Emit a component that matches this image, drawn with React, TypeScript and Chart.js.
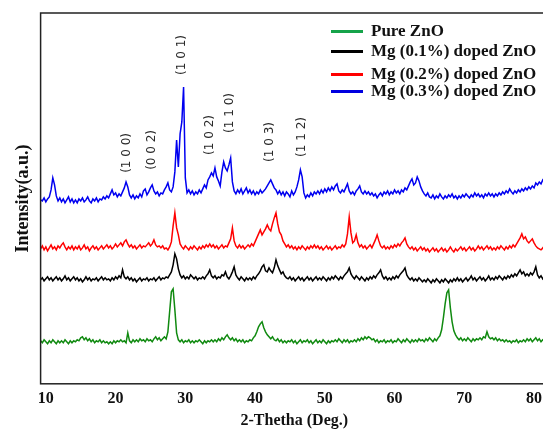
import React, { useEffect, useRef } from "react";
import { Chart, registerables } from "chart.js";

Chart.register(...registerables);

// 2-theta sampling (degrees)
const twoTheta = [
  9.25, 9.5, 9.75, 10, 10.25, 10.5, 10.75, 11, 11.25, 11.5, 11.75, 12, 12.25, 12.5, 12.75, 13, 13.25, 13.5, 13.75, 14,
  14.25, 14.5, 14.75, 15, 15.25, 15.5, 15.75, 16, 16.25, 16.5, 16.75, 17, 17.25, 17.5, 17.75, 18, 18.25, 18.5, 18.75, 19,
  19.25, 19.5, 19.75, 20, 20.25, 20.5, 20.75, 21, 21.25, 21.5, 21.75, 22, 22.25, 22.5, 22.75, 23, 23.25, 23.5, 23.75, 24,
  24.25, 24.5, 24.75, 25, 25.25, 25.5, 25.75, 26, 26.25, 26.5, 26.75, 27, 27.25, 27.5, 27.75, 28, 28.25, 28.5, 28.75, 29,
  29.25, 29.5, 29.75, 30, 30.25, 30.5, 30.75, 31, 31.25, 31.5, 31.75, 32, 32.25, 32.5, 32.75, 33, 33.25, 33.5, 33.75, 34,
  34.25, 34.5, 34.75, 35, 35.25, 35.5, 35.75, 36, 36.25, 36.5, 36.75, 37, 37.25, 37.5, 37.75, 38, 38.25, 38.5, 38.75, 39,
  39.25, 39.5, 39.75, 40, 40.25, 40.5, 40.75, 41, 41.25, 41.5, 41.75, 42, 42.25, 42.5, 42.75, 43, 43.25, 43.5, 43.75, 44,
  44.25, 44.5, 44.75, 45, 45.25, 45.5, 45.75, 46, 46.25, 46.5, 46.75, 47, 47.25, 47.5, 47.75, 48, 48.25, 48.5, 48.75, 49,
  49.25, 49.5, 49.75, 50, 50.25, 50.5, 50.75, 51, 51.25, 51.5, 51.75, 52, 52.25, 52.5, 52.75, 53, 53.25, 53.5, 53.75, 54,
  54.25, 54.5, 54.75, 55, 55.25, 55.5, 55.75, 56, 56.25, 56.5, 56.75, 57, 57.25, 57.5, 57.75, 58, 58.25, 58.5, 58.75, 59,
  59.25, 59.5, 59.75, 60, 60.25, 60.5, 60.75, 61, 61.25, 61.5, 61.75, 62, 62.25, 62.5, 62.75, 63, 63.25, 63.5, 63.75, 64,
  64.25, 64.5, 64.75, 65, 65.25, 65.5, 65.75, 66, 66.25, 66.5, 66.75, 67, 67.25, 67.5, 67.75, 68, 68.25, 68.5, 68.75, 69,
  69.25, 69.5, 69.75, 70, 70.25, 70.5, 70.75, 71, 71.25, 71.5, 71.75, 72, 72.25, 72.5, 72.75, 73, 73.25, 73.5, 73.75, 74,
  74.25, 74.5, 74.75, 75, 75.25, 75.5, 75.75, 76, 76.25, 76.5, 76.75, 77, 77.25, 77.5, 77.75, 78, 78.25, 78.5, 78.75, 79,
  79.25, 79.5, 79.75, 80, 80.25, 80.5, 80.75, 81, 81.25, 81.5, 81.75, 82,
];

// Intensity (a.u., stacked/offset as in the figure)
const pureZnO = [
  43, 41, 44, 42, 40, 43, 41, 44, 42, 40, 43, 41, 43, 41, 44, 42, 40, 43, 41, 43,
  42, 44, 43, 46, 47, 44, 46, 43, 45, 42, 44, 41, 43, 42, 44, 41, 43, 41, 42, 40,
  42, 40, 43, 41, 43, 42, 44, 42, 43, 41, 51, 43, 41, 44, 42, 44, 42, 45, 43, 44,
  42, 45, 43, 44, 42, 45, 47, 44, 46, 43, 45, 47, 45, 52, 72, 92, 95, 74, 51, 44,
  42, 44, 41, 43, 42, 44, 41, 43, 41, 43, 42, 44, 42, 40, 43, 41, 43, 42, 44, 42,
  44, 42, 45, 43, 46, 44, 47, 49, 46, 44, 46, 43, 45, 42, 44, 42, 44, 41, 43, 42,
  44, 43, 46, 48, 52, 57, 60, 62, 56, 52, 49, 47, 45, 47, 44, 43, 45, 42, 44, 41,
  43, 41, 43, 42, 44, 41, 43, 40, 42, 44, 41, 43, 42, 44, 41, 43, 40, 42, 44, 41,
  43, 41, 44, 42, 40, 43, 41, 43, 42, 44, 42, 45, 43, 41, 44, 42, 44, 41, 43, 42,
  44, 42, 45, 43, 46, 44, 47, 45, 47, 46, 44, 45, 42, 44, 41, 43, 42, 44, 41, 43,
  42, 44, 41, 43, 42, 45, 43, 41, 44, 42, 45, 43, 41, 44, 42, 44, 42, 45, 43, 44,
  42, 45, 43, 46, 44, 42, 45, 43, 46, 48, 54, 66, 80, 91, 94, 76, 62, 53, 49, 46,
  44, 46, 43, 45, 43, 46, 44, 42, 45, 43, 45, 44, 46, 44, 47, 46, 52, 47, 45, 46,
  44, 46, 43, 45, 43, 44, 42, 44, 42, 43, 41, 43, 42, 44, 41, 43, 42, 44, 42, 45,
  43, 45, 42, 44, 46, 43, 45, 42, 44, 43, 45, 43,
];

const mg01 = [
  104, 106, 103, 105, 107, 104, 106, 103, 105, 107, 104, 106, 103, 105, 108, 104, 106, 103, 105, 107,
  104, 106, 103, 105, 102, 104, 107, 104, 106, 103, 105, 104, 106, 103, 105, 107, 104, 106, 104, 105,
  103, 106, 104, 107, 105, 108, 106, 114, 107, 105, 107, 104, 106, 103, 105, 102, 104, 106, 103, 105,
  104, 106, 103, 105, 104, 106, 103, 105, 107, 104, 106, 105, 107, 106, 109, 112, 119, 130, 125, 115,
  109, 106, 108, 105, 107, 105, 109, 107, 105, 107, 104, 106, 105, 107, 105, 108, 110, 114, 108, 106,
  108, 105, 107, 106, 109, 108, 112, 107, 105, 108, 112, 117, 109, 106, 104, 107, 105, 103, 106, 104,
  106, 104, 107, 105, 108, 110, 113, 117, 119, 113, 112, 116, 113, 111, 116, 124, 118, 114, 110, 112,
  108, 106, 105, 107, 104, 106, 103, 105, 107, 104, 106, 103, 105, 107, 104, 106, 103, 105, 107, 104,
  106, 104, 107, 105, 103, 106, 104, 107, 105, 108, 106, 104, 107, 105, 108, 110, 112, 116, 110, 107,
  105, 108, 106, 104, 107, 105, 103, 106, 104, 107, 105, 108, 106, 109, 111, 114, 108, 105, 107, 104,
  106, 104, 107, 105, 108, 106, 109, 111, 113, 116, 109, 106, 104, 106, 103, 105, 103, 106, 104, 102,
  104, 102, 105, 103, 101, 104, 102, 105, 103, 101, 104, 102, 105, 103, 101, 104, 102, 105, 103, 106,
  103, 105, 102, 104, 106, 103, 105, 108, 104, 106, 103, 105, 107, 104, 106, 103, 105, 108, 104, 106,
  104, 107, 105, 108, 106, 104, 107, 105, 108, 106, 109, 107, 110, 108, 111, 114, 110, 112, 108, 110,
  108, 111, 109, 112, 117, 109, 106, 108, 105, 107, 104, 106,
];

const mg02 = [
  135, 138, 134, 137, 133, 136, 139, 135, 137, 134, 138, 136, 139, 141, 137, 134, 137, 135, 138, 134,
  137, 135, 138, 134, 136, 139, 135, 137, 133, 136, 138, 135, 137, 134, 136, 138, 135, 137, 139, 136,
  138, 135, 137, 140, 137, 139, 141, 138, 142, 144, 140, 137, 139, 136, 138, 135, 137, 139, 136, 138,
  137, 139, 141, 138, 140, 144, 139, 137, 138, 136, 138, 135, 136, 134, 137, 142, 158, 171, 156, 149,
  140, 137, 135, 138, 136, 134, 137, 135, 138, 136, 134, 137, 135, 138, 136, 139, 137, 140, 137, 139,
  136, 138, 135, 137, 139, 136, 138, 137, 141, 145, 156, 143, 138, 136, 139, 136, 138, 135, 137, 139,
  137, 140, 138, 142, 146, 150, 154, 149, 152, 155, 159, 155, 153, 160, 166, 171, 160, 152, 149, 143,
  140, 137, 139, 136, 138, 135, 137, 134, 137, 135, 138, 136, 134, 137, 135, 138, 136, 139, 136, 138,
  135, 137, 134, 136, 138, 135, 137, 134, 136, 138, 135, 137, 136, 139, 137, 140, 150, 167, 151, 141,
  143, 149, 141, 137, 139, 136, 138, 135, 137, 139, 136, 140, 144, 149, 143, 138, 136, 138, 135, 137,
  135, 138, 136, 139, 137, 140, 138, 141, 143, 146, 140, 137, 135, 137, 134, 136, 133, 135, 137, 134,
  136, 133, 135, 132, 134, 136, 133, 135, 132, 134, 136, 133, 135, 132, 134, 137, 134, 132, 135, 133,
  135, 137, 134, 136, 133, 135, 137, 134, 136, 133, 135, 138, 135, 137, 134, 136, 138, 135, 137, 134,
  136, 134, 137, 135, 138, 136, 134, 137, 135, 138, 136, 139, 137, 140, 143, 146, 150, 145, 147, 143,
  141, 143, 145, 141, 138, 136, 135, 134, 136, 133, 135, 134,
];

const mg03 = [
  184, 183, 186, 182, 185, 187, 194, 206, 199, 188, 183, 186, 182, 185, 181, 184, 187, 182, 185, 181,
  184, 181, 185, 183, 186, 182, 184, 187, 183, 181, 185, 183, 186, 182, 185, 184, 187, 185, 188, 186,
  190, 194, 189, 191, 187, 190, 188, 192, 196, 202, 197, 189, 186, 189, 185, 188, 186, 190, 187, 193,
  195, 189, 192, 196, 199, 193, 190, 192, 188, 191, 190, 194, 197, 201, 194, 192, 197, 212, 244, 217,
  250, 262, 297, 206, 191, 194, 190, 193, 189, 192, 190, 194, 191, 195, 199, 196, 204, 207, 211, 208,
  216, 207, 203, 198, 212, 222, 216, 213, 219, 226, 202, 193, 190, 194, 191, 195, 190, 193, 196, 191,
  194, 190, 193, 189, 192, 190, 194, 191, 193, 195, 198, 201, 204, 200, 196, 194, 190, 193, 189, 192,
  188, 192, 190, 187, 193, 189, 192, 197, 204, 214, 207, 191, 186, 189, 187, 191, 188, 192, 190, 193,
  190, 194, 191, 195, 192, 196, 193, 197, 194, 198, 200, 193, 191, 194, 192, 196, 200, 193, 190, 192,
  189, 193, 195, 198, 192, 190, 193, 190, 192, 189, 191, 188, 190, 186, 189, 191, 188, 192, 190, 193,
  189, 192, 190, 194, 191, 193, 190, 194, 192, 196, 194, 198, 202, 205, 199, 201, 207, 203, 197, 193,
  190, 188, 191, 187, 186, 189, 185, 188, 186, 190, 187, 185, 188, 186, 189, 187, 190, 186, 188, 185,
  188, 186, 189, 187, 190, 188, 186, 189, 187, 191, 188, 190, 187, 189, 186, 190, 188, 191, 188, 190,
  187, 190, 188, 191, 189, 192, 190, 193, 191, 195, 192, 190, 193, 191, 194, 192, 195, 193, 196, 194,
  197, 195, 198, 196, 201, 199, 202, 200, 204, 202, 205, 203,
];

const seriesNames = ["Pure ZnO", "Mg (0.1%) doped ZnO", "Mg (0.2%) doped ZnO", "Mg (0.3%) doped ZnO"];
const seriesValues = [pureZnO, mg01, mg02, mg03];
const seriesColors = ["#108a10", "#000000", "#ff0000", "#0000f0"];
const legendColors = ["#16a34a", "#000000", "#ff0000", "#0000e0"];

const xTickValues = [10, 20, 30, 40, 50, 60, 70, 80];

// Miller-index annotations (position in 2-theta, intensity)
const hklLabels = ["(1 0 0)", "(0 0 2)", "(1 0 1)", "(1 0 2)", "(1 1 0)", "(1 0 3)", "(1 1 2)"];
const hklX = [21.6, 25.2, 29.5, 33.5, 36.4, 42.1, 46.7];
const hklY = [231, 234, 329, 249, 271, 242, 247];

const SERIF = "'Liberation Serif', 'Times New Roman', serif";

const framePlugin = {
  id: "frameAndLabels",
  afterDatasetsDraw(chart: any) {
    const { ctx, chartArea: a, scales } = chart;
    ctx.save();
    ctx.strokeStyle = "#222";
    ctx.lineWidth = 1.5;
    ctx.strokeRect(a.left, a.top, a.right - a.left, a.bottom - a.top);
    ctx.font = "12px 'DejaVu Sans', sans-serif";
    ctx.fillStyle = "#2a2a2a";
    ctx.textAlign = "center";
    ctx.textBaseline = "middle";
    hklLabels.forEach((t, i) => {
      const x = scales.x.getPixelForValue(hklX[i]);
      const y = scales.y.getPixelForValue(hklY[i]);
      ctx.save();
      ctx.translate(x, y);
      ctx.rotate(-Math.PI / 2);
      ctx.fillText(t, 0, 0);
      ctx.restore();
    });
    ctx.restore();
  },
};

export default function App() {
  const canvasRef = useRef<HTMLCanvasElement | null>(null);

  useEffect(() => {
    if (!canvasRef.current) return;
    const chart = new Chart(canvasRef.current, {
      type: "line",
      data: {
        datasets: seriesValues.map((vals, i) => ({
          label: seriesNames[i],
          data: twoTheta.map((x, j) => ({ x, y: vals[j] })),
          borderColor: seriesColors[i],
          backgroundColor: seriesColors[i],
          borderWidth: 1.5,
          pointRadius: 0,
          tension: 0,
        })),
      },
      options: {
        animation: false,
        responsive: true,
        maintainAspectRatio: false,
        layout: { padding: { top: 13, left: 13, right: 2, bottom: 0 } },
        plugins: { legend: { display: false }, tooltip: { enabled: false } },
        scales: {
          x: {
            type: "linear",
            min: 9.25,
            max: 82,
            grid: { display: false, drawTicks: false },
            border: { display: false },
            afterBuildTicks: (s: any) => {
              s.ticks = xTickValues.map((v) => ({ value: v }));
            },
            ticks: {
              color: "#111",
              autoSkip: false,
              maxRotation: 0,
              padding: 5,
              font: { family: SERIF, weight: "bold", size: 16 },
            },
            title: {
              display: true,
              text: "2-Thetha (Deg.)",
              color: "#111",
              font: { family: SERIF, weight: "bold", size: 16, lineHeight: 1 },
              padding: { top: 0, bottom: 2 },
            },
          },
          y: {
            type: "linear",
            min: 0,
            max: 371,
            grid: { display: false, drawTicks: false },
            border: { display: false },
            ticks: { display: false },
            title: {
              display: true,
              text: "Intensity(a.u.)",
              color: "#111",
              font: { family: SERIF, weight: "bold", size: 18 },
              padding: { top: 0, bottom: 6 },
            },
          },
        },
      } as any,
      plugins: [framePlugin],
    });
    return () => chart.destroy();
  }, []);

  const legendTops = [20, 40, 63, 80];

  return (
    <div
      style={{
        position: "fixed",
        left: 0,
        top: 0,
        width: 543,
        height: 431,
        overflow: "hidden",
        background: "#fff",
      }}
    >
      <div style={{ position: "absolute", left: 0, top: 0, width: 550, height: 431 }}>
        <canvas ref={canvasRef} />
      </div>
      {seriesNames.map((name, i) => (
        <div
          key={name}
          style={{
            position: "absolute",
            left: 331,
            top: legendTops[i],
            height: 22,
            display: "flex",
            alignItems: "center",
            whiteSpace: "nowrap",
            font: `bold 17px ${SERIF}`,
            color: "#111",
          }}
        >
          <span
            style={{
              display: "inline-block",
              width: 32,
              height: 3,
              background: legendColors[i],
              marginRight: 8,
            }}
          />
          <span>{name}</span>
        </div>
      ))}
    </div>
  );
}
